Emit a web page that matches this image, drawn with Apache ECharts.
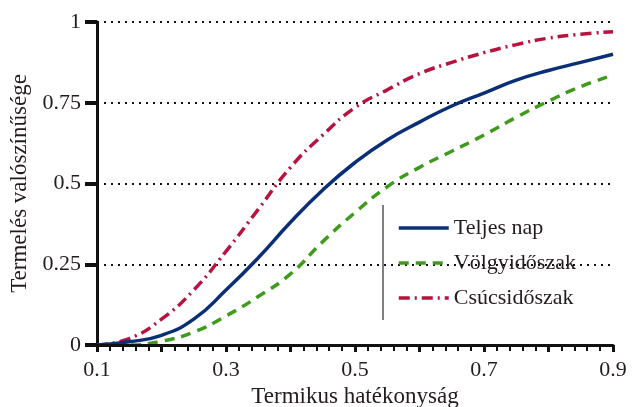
<!DOCTYPE html>
<html>
<head>
<meta charset="utf-8">
<script src="https://cdn.jsdelivr.net/npm/echarts@6/dist/echarts.min.js"></script>
<style>
  html, body { margin: 0; padding: 0; background: #fff; }
  #chart { width: 632px; height: 407px; }
</style>
</head>
<body>
<div id="chart"></div>
<script>
// Thermal efficiency samples (x axis)
const efficiency = [0.10, 0.15, 0.20, 0.25, 0.30, 0.35, 0.40, 0.45, 0.50,
                    0.55, 0.60, 0.65, 0.70, 0.75, 0.80, 0.85, 0.90];

// Production probability per period
const teljesNap    = [0, 0.01, 0.03, 0.08, 0.17, 0.27, 0.38, 0.48, 0.565,
                      0.635, 0.69, 0.74, 0.78, 0.82, 0.85, 0.875, 0.90];
const volgyidoszak = [0, 0.0, 0.012, 0.04, 0.09, 0.15, 0.22, 0.32, 0.41,
                      0.49, 0.55, 0.60, 0.65, 0.705, 0.755, 0.80, 0.835];
const csucsidoszak = [0, 0.02, 0.08, 0.17, 0.29, 0.42, 0.55, 0.65, 0.735,
                      0.79, 0.84, 0.875, 0.905, 0.93, 0.95, 0.962, 0.97];

const seriesNames = ['Teljes nap', 'Völgyidőszak', 'Csúcsidőszak'];
const xTickLabels = [0.1, 0.3, 0.5, 0.7, 0.9];
const yTickLabels = [0, 0.25, 0.5, 0.75, 1];

const FONT = 'Liberation Serif';
const TEXT = '#231c1c';
const toPairs = ys => efficiency.map((x, i) => [x, ys[i]]);

const chart = echarts.init(document.getElementById('chart'), null, { renderer: 'canvas' });

chart.setOption({
  animation: false,
  backgroundColor: '#ffffff',
  grid: { left: 97, right: 19, top: 22, bottom: 62, outerBoundsMode: 'none' },
  xAxis: [
    {
      type: 'value',
      min: 0.1,
      max: 0.9,
      interval: 0.1,
      name: 'Termikus hatékonyság',
      nameLocation: 'middle',
      nameGap: 38,
      nameTextStyle: { fontFamily: FONT, fontSize: 23, color: TEXT },
      axisLine: { show: true, onZero: false, lineStyle: { color: '#111', width: 3 } },
      axisTick: { show: true, length: 7, lineStyle: { color: '#111', width: 3 } },
      minorTick: { show: true, splitNumber: 5, length: 6, lineStyle: { color: '#111', width: 2 } },
      axisLabel: {
        customValues: xTickLabels,
        formatter: v => String(Math.round(v * 10) / 10),
        fontFamily: FONT, fontSize: 22, color: TEXT, margin: 14
      },
      splitLine: { show: false },
      z: 10
    },
    {
      // tick-only companion axis along the bottom edge
      type: 'value',
      position: 'bottom',
      offset: 0,
      min: 0.1,
      max: 0.9,
      interval: 0.1,
      axisLine: { show: false, onZero: false },
      axisTick: { show: true, length: 7, lineStyle: { color: '#111', width: 3 } },
      minorTick: { show: true, splitNumber: 5, length: 5, lineStyle: { color: '#111', width: 2 } },
      axisLabel: { show: false },
      splitLine: { show: false },
      z: 10
    }
  ],
  yAxis: {
    type: 'value',
    min: 0,
    max: 1,
    interval: 0.25,
    name: 'Termelés valószínűsége',
    nameLocation: 'middle',
    nameGap: 62,
    nameTextStyle: { fontFamily: FONT, fontSize: 23, color: TEXT },
    axisLine: { show: true, lineStyle: { color: '#111', width: 3 } },
    axisTick: { show: true, length: 12, lineStyle: { color: '#111', width: 4 } },
    axisLabel: {
      formatter: v => yTickLabels.includes(v) ? String(v) : '',
      fontFamily: FONT, fontSize: 22, color: TEXT, margin: 16
    },
    splitLine: {
      show: true,
      showMinLine: false,
      lineStyle: { color: '#111', width: 2, type: [2, 5] }
    }
  },
  legend: {
    orient: 'vertical',
    left: 392,
    top: 212,
    itemWidth: 50,
    itemHeight: 14,
    itemGap: 13,
    textStyle: { fontFamily: FONT, fontSize: 22, color: TEXT },
    itemStyle: { color: 'transparent', borderWidth: 0, opacity: 0 },
    lineStyle: { width: 3.5 },
    data: seriesNames
  },
  graphic: [{
    type: 'line',
    shape: { x1: 383, y1: 205, x2: 383, y2: 320 },
    style: { stroke: '#555', lineWidth: 1.5 }
  }],
  series: [
    {
      name: seriesNames[0], type: 'line', smooth: true, symbol: 'none',
      xAxisIndex: 0, data: toPairs(teljesNap), z: 3,
      lineStyle: { color: '#0b2f75', width: 3.5, type: 'solid' },
      itemStyle: { color: '#0b2f75' }
    },
    {
      name: seriesNames[1], type: 'line', smooth: true, symbol: 'none',
      xAxisIndex: 0, data: toPairs(volgyidoszak), z: 2,
      lineStyle: { color: '#3f9b1c', width: 3.5, type: [10, 7] },
      itemStyle: { color: '#3f9b1c' }
    },
    {
      name: seriesNames[2], type: 'line', smooth: true, symbol: 'none',
      xAxisIndex: 0, data: toPairs(csucsidoszak), z: 2,
      lineStyle: { color: '#b8123e', width: 3.5, type: [11, 5, 2, 5] },
      itemStyle: { color: '#b8123e' }
    }
  ]
});
</script>
</body>
</html>
